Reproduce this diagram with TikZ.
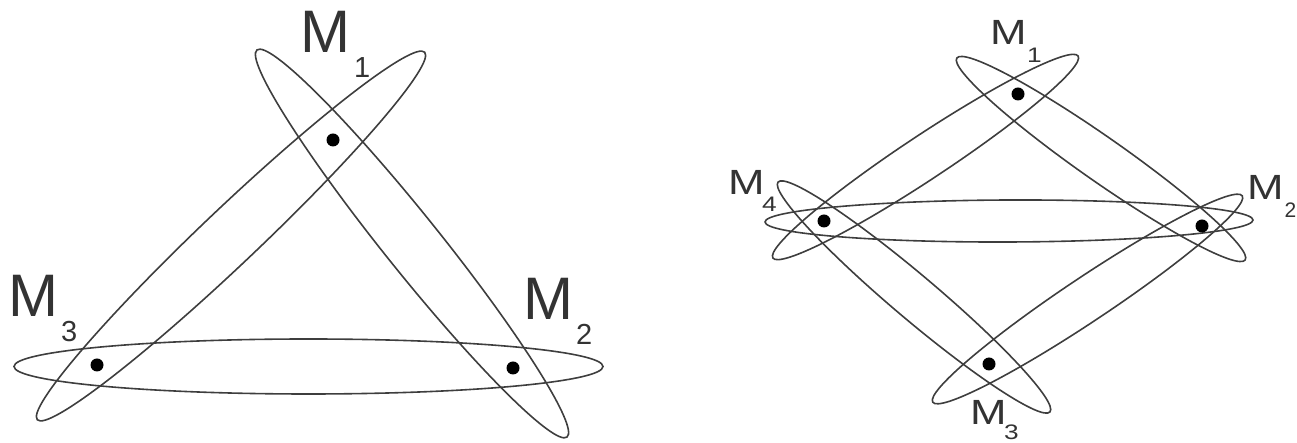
\documentclass[tikz,border=0pt]{standalone}
\usepackage{fontspec}
\setmainfont{Liberation Sans}
\definecolor{linegray}{HTML}{3E3E3E}
\definecolor{textgray}{HTML}{333333}
\begin{document}
\begin{tikzpicture}[x=1pt,y=1pt,
  ring/.style={draw=linegray,line width=1.6pt},
  pt/.style={circle,fill=black,inner sep=0pt,minimum size=13pt},
  bigM/.style={anchor=base west,inner sep=0pt,text=textgray,font=\fontsize{60}{60}\selectfont},
  bigsub/.style={anchor=base west,inner sep=0pt,text=textgray,font=\fontsize{29}{29}\selectfont},
  smallM/.style={anchor=base west,inner sep=0pt,text=textgray,font=\fontsize{35}{35}\selectfont},
  smallsub/.style={anchor=base west,inner sep=0pt,text=textgray,font=\fontsize{21}{21}\selectfont}]
\useasboundingbox (0,0) rectangle (1297,443);
% ---------- left diagram ----------
\draw[ring] (308.5,76.5) ellipse [x radius=294.5, y radius=27.5];
\draw[ring,rotate around={43.5:(231,207)}] (231,207) ellipse [x radius=267, y radius=28];
\draw[ring,rotate around={-51.3:(412,199.5)}] (412,199.5) ellipse [x radius=248, y radius=28];
\node[pt] (L1) at (333,303) {};
\node[pt] (L2) at (513,75) {};
\node[pt] (L3) at (97,78) {};
\node[bigM] (L1M) at (300.5,390) {M};
\node[bigsub] (L1s) at (354,365) {1};
\node[bigM] (L3M) at (8.6,126) {M};
\node[bigsub] (L3s) at (61,101) {3};
\node[bigM] (L2M) at (523.6,123) {M};
\node[bigsub] (L2s) at (576,98) {2};
% ---------- right diagram ----------
\draw[ring,rotate around={0.23:(1009,222)}] (1009,222) ellipse [x radius=244, y radius=21];
\draw[ring,rotate around={33.5:(925.5,286)}] (925.5,286) ellipse [x radius=183, y radius=22];
\draw[ring,rotate around={-35:(1101,284)}] (1101,284) ellipse [x radius=176, y radius=22];
\draw[ring,rotate around={-40.2:(914,146)}] (914,146) ellipse [x radius=178, y radius=22];
\draw[ring,rotate around={33.7:(1087.5,144)}] (1087.5,144) ellipse [x radius=186, y radius=22];
\node[pt] (R1) at (1018,349) {};
\node[pt] (R4) at (824,222) {};
\node[pt] (R2) at (1202,217) {};
\node[pt] (R3) at (989,79) {};
\node[smallM] (R1M) at (990,398) {\scalebox{1.25}[1]{M}};
\node[smallsub] (R1s) at (1027,380) {\scalebox{1.25}[1]{1}};
\node[smallM] (R4M) at (728,248) {\scalebox{1.25}[1]{M}};
\node[smallsub] (R4s) at (762,231) {\scalebox{1.25}[1]{4}};
\node[smallM] (R2M) at (1247,243) {\scalebox{1.25}[1]{M}};
\node[smallsub] (R2s) at (1284.5,225) {2};
\node[smallM] (R3M) at (970,18) {\scalebox{1.25}[1]{M}};
\node[smallsub] (R3s) at (1004,3.5) {\scalebox{1.25}[1]{3}};
\end{tikzpicture}
\end{document}
